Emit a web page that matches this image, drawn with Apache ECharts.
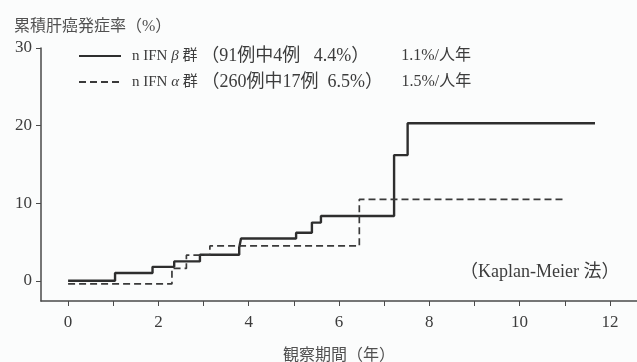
<!DOCTYPE html>
<html>
<head>
<meta charset="utf-8">
<script src="https://cdn.jsdelivr.net/npm/echarts@6/dist/echarts.min.js"></script>
<style>
  html, body { margin: 0; padding: 0; background: #fbfcfc; }
  #chart { width: 637px; height: 362px; }
</style>
</head>
<body>
<div id="chart"></div>
<script>
// Kaplan-Meier cumulative hepatocarcinogenesis curves: [years, %]
const betaCurve = [
  [0, 0], [1.04, 1.0], [1.87, 1.8], [2.35, 2.5], [2.92, 3.35],
  [3.79, 4.3], [3.83, 5.45], [5.05, 6.2], [5.4, 7.5], [5.6, 8.35],
  [7.22, 16.2], [7.52, 20.3], [11.67, 20.3]
];
const alphaCurve = [
  [0, -0.4], [2.3, 1.6], [2.62, 3.3], [3.14, 4.5], [6.45, 10.5], [10.97, 10.5]
];

const seriesNames = ['nIFNβ', 'nIFNα'];
const groupPrefix = ['n IFN ', 'n IFN '];
const groupGreek = ['β', 'α'];
const groupCounts = ['（91例中4例   4.4%）', '（260例中17例  6.5%）'];
const annualRates = ['1.1%/人年', '1.5%/人年'];

const xTicks = [0, 1, 2, 3, 4, 5, 6, 7, 8, 9, 10, 11, 12];
const xLabels = [0, 2, 4, 6, 8, 10, 12];
const yTicks = [0, 10, 20, 30];

const FONT = "'Liberation Serif', 'Noto Sans CJK JP', serif";
const INK = '#3c3c3c';
const AXIS = '#4a4a4a';

const chart = echarts.init(document.getElementById('chart'));
chart.setOption({
  backgroundColor: '#fbfcfc',
  animation: false,
  title: {
    text: '累積肝癌発症率（%）',
    left: 9, top: 14,
    textStyle: { fontFamily: FONT, fontSize: 16, fontWeight: 'normal', color: '#505050' }
  },
  legend: {
    orient: 'vertical',
    left: 73, top: 42,
    itemWidth: 42, itemHeight: 14,
    itemGap: 8,
    data: seriesNames,
    itemStyle: { opacity: 0 },
    formatter: function (name) {
      const i = seriesNames.indexOf(name);
      return '{n|' + groupPrefix[i] + '}{g|' + groupGreek[i] + '}{n| 群 }{c|' + groupCounts[i] + '}{r|' + annualRates[i] + '}';
    },
    textStyle: {
      fontFamily: FONT, fontSize: 15, color: INK, padding: [0, 0, 0, 6],
      rich: {
        n: { fontFamily: FONT, fontSize: 15, color: INK, lineHeight: 14 },
        g: { fontFamily: FONT, fontSize: 15, fontStyle: 'italic', color: INK, lineHeight: 14 },
        c: { fontFamily: FONT, fontSize: 18, color: INK, lineHeight: 14, width: 200 },
        r: { fontFamily: FONT, fontSize: 16, color: INK, lineHeight: 14 }
      }
    }
  },
  grid: { left: 41, right: 0, top: 48, bottom: 61, containLabel: false, outerBoundsMode: 'none' },
  xAxis: {
    type: 'value', min: -0.6, max: 12.6,
    name: '観察期間（年）', nameLocation: 'middle', nameGap: 47,
    nameTextStyle: { fontFamily: FONT, fontSize: 16, color: '#505050' },
    axisLine: { onZero: false, lineStyle: { color: AXIS, width: 1.5 } },
    axisTick: { show: true, length: 5, customValues: xTicks, lineStyle: { color: AXIS } },
    axisLabel: { customValues: xLabels, margin: 13, fontFamily: FONT, fontSize: 17, color: INK },
    splitLine: { show: false }
  },
  yAxis: {
    type: 'value', min: -2.6, max: 30,
    axisLine: { show: true, onZero: false, lineStyle: { color: AXIS, width: 1.5 } },
    axisTick: { show: true, length: 5, customValues: yTicks, lineStyle: { color: AXIS } },
    axisLabel: { customValues: yTicks, margin: 9, fontFamily: FONT, fontSize: 17, color: INK },
    splitLine: { show: false }
  },
  graphic: [{
    type: 'text', left: 460, top: 263,
    style: { text: '（Kaplan-Meier 法）', font: '18px ' + FONT, fill: INK }
  }],
  series: [
    {
      name: seriesNames[0], type: 'line', step: 'end', data: betaCurve,
      symbol: 'none', lineStyle: { color: '#2e2e2e', width: 2.4, type: 'solid' },
      itemStyle: { color: '#2e2e2e' }
    },
    {
      name: seriesNames[1], type: 'line', step: 'end', data: alphaCurve,
      symbol: 'none', lineStyle: { color: '#3a3a3a', width: 1.7, type: [7, 4] },
      itemStyle: { color: '#3a3a3a' }
    }
  ]
});
</script>
</body>
</html>
